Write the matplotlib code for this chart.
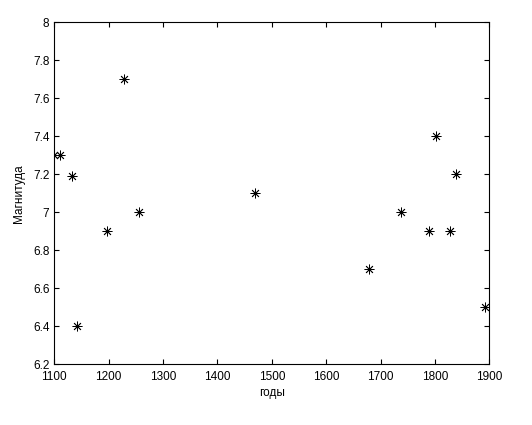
import matplotlib
matplotlib.use('Agg')
import matplotlib.pyplot as plt

years = [1100, 1111, 1133, 1142, 1196, 1228, 1256, 1469, 1678, 1737, 1789, 1801, 1827, 1838, 1892]
magnitude = [7.3, 7.3, 7.19, 6.4, 6.9, 7.7, 7.0, 7.1, 6.7, 7.0, 6.9, 7.4, 6.9, 7.2, 6.5]
xticks = [1100, 1200, 1300, 1400, 1500, 1600, 1700, 1800, 1900]
yticks = [6.2, 6.4, 6.6, 6.8, 7.0, 7.2, 7.4, 7.6, 7.8, 8.0]
ylabels = ['6.2', '6.4', '6.6', '6.8', '7', '7.2', '7.4', '7.6', '7.8', '8']

plt.rcParams['font.family'] = ['Liberation Sans', 'DejaVu Sans']
plt.rcParams['font.size'] = 8.5

fig = plt.figure(figsize=(5.32, 4.25), dpi=100)
ax = fig.add_axes([0.1021, 0.1428, 0.8177, 0.8047])

ax.plot(years, magnitude, linestyle='none', marker=(8, 2, 0), color='black',
        markersize=7, markeredgewidth=0.6)

ax.set_xlim(1100, 1900)
ax.set_ylim(6.2, 8.0)
ax.set_xticks(xticks)
ax.set_yticks(yticks)
ax.set_yticklabels(ylabels, va='center_baseline')
ax.tick_params(direction='in', top=True, right=True, length=3.6, width=0.8)
ax.tick_params(axis='x', pad=4.5)
ax.tick_params(axis='y', pad=3.5)
for s in ax.spines.values():
    s.set_linewidth(0.8)

ax.set_xlabel('годы', labelpad=3)
ax.set_ylabel('Магнитуда', labelpad=6)

fig.savefig('out.png', dpi=100)
